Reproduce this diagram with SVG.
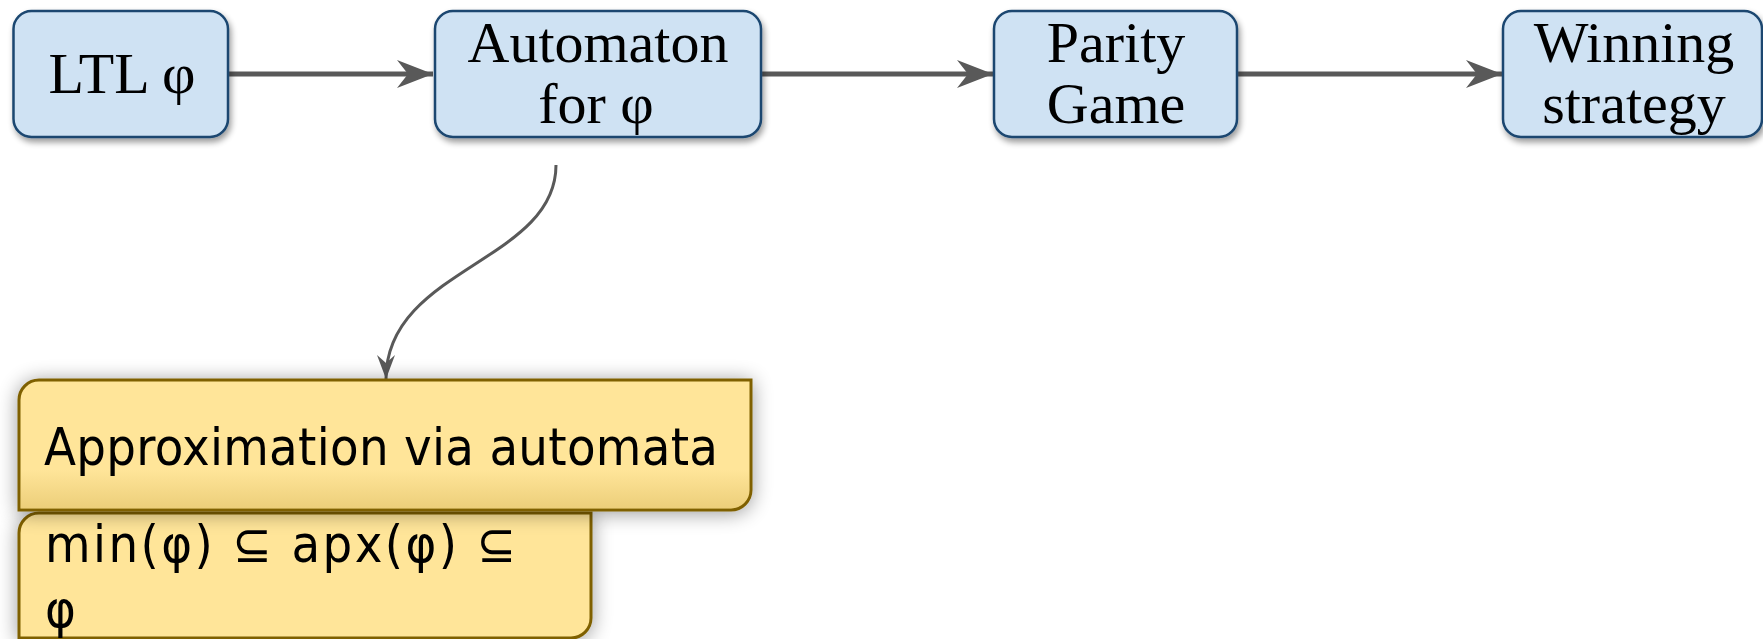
<svg xmlns="http://www.w3.org/2000/svg" width="1763" height="639" viewBox="0 0 1763 639">
  <style>
    .blue { fill: #cfe2f3; stroke: #1a4670; stroke-width: 2.5; filter: url(#dropShadow); }
    .yellow { fill: #ffe599; stroke: #7f6000; stroke-width: 3; filter: url(#glow); }
    .serif { font-family: "Liberation Serif", "Times New Roman", serif; font-size: 58px; fill: #000; text-anchor: middle; }
    .sans { font-family: "DejaVu Sans Condensed", "DejaVu Sans", sans-serif; font-stretch: condensed; font-size: 52px; fill: #000; }
    .flow { fill: none; stroke: #595959; stroke-width: 5; }
    .bend { fill: none; stroke: #595959; stroke-width: 3; }
  </style>
  <defs>
    <filter id="dropShadow" x="-10%" y="-10%" width="130%" height="140%">
      <feGaussianBlur in="SourceAlpha" stdDeviation="3"/>
      <feOffset dx="2" dy="4" result="off"/>
      <feComponentTransfer><feFuncA type="linear" slope="0.4"/></feComponentTransfer>
      <feMerge><feMergeNode/><feMergeNode in="SourceGraphic"/></feMerge>
    </filter>
    <filter id="glow" x="-10%" y="-30%" width="120%" height="160%">
      <feGaussianBlur in="SourceAlpha" stdDeviation="10"/>
      <feOffset dx="0" dy="2"/>
      <feComponentTransfer><feFuncA type="linear" slope="0.4"/></feComponentTransfer>
      <feMerge><feMergeNode/><feMergeNode in="SourceGraphic"/></feMerge>
    </filter>
    <linearGradient id="bottomShade" x1="0" y1="0" x2="0" y2="1">
      <stop offset="0" stop-color="#c9a440" stop-opacity="0"/>
      <stop offset="1" stop-color="#c9a440" stop-opacity="0.35"/>
    </linearGradient>
    <marker id="headBig" markerUnits="userSpaceOnUse" markerWidth="40" markerHeight="30" refX="36" refY="14" orient="auto">
      <path d="M0,0 L36,14 L0,28 L11,14 Z" fill="#595959"/>
    </marker>
    <marker id="headSmall" markerUnits="userSpaceOnUse" markerWidth="26" markerHeight="22" refX="24" refY="9" orient="auto">
      <path d="M0,0 L24,9 L0,18 L8,9 Z" fill="#595959"/>
    </marker>
  </defs>

  <g id="connectors">
    <path class="flow" d="M228,74 L433,74" marker-end="url(#headBig)"/>
    <path class="flow" d="M761,74 L993,74" marker-end="url(#headBig)"/>
    <path class="flow" d="M1237,74 L1502,74" marker-end="url(#headBig)"/>
    <path class="bend" d="M556,165 C556,262 386,268 386,379" marker-end="url(#headSmall)"/>
  </g>

  <g id="node-ltl">
    <rect class="blue" x="13.5" y="11" width="214.5" height="126" rx="18"/>
    <text class="serif" x="122" y="93">LTL φ</text>
  </g>

  <g id="node-automaton">
    <rect class="blue" x="435" y="11" width="326" height="126" rx="18"/>
    <text class="serif" x="598" y="62">Automaton</text>
    <text class="serif" x="596" y="123">for φ</text>
  </g>

  <g id="node-parity">
    <rect class="blue" x="994" y="11" width="243" height="126" rx="18"/>
    <text class="serif" x="1116" y="62">Parity</text>
    <text class="serif" x="1116" y="123">Game</text>
  </g>

  <g id="node-winning">
    <rect class="blue" x="1503" y="11" width="259" height="126" rx="18"/>
    <text class="serif" x="1634" y="62">Winning</text>
    <text class="serif" x="1634" y="123">strategy</text>
  </g>

  <g id="node-bound">
    <path class="yellow" d="M19,638 L19,533 A20,20 0 0 1 39,513 L591,513 L591,618 A20,20 0 0 1 571,638 Z"/>
    <text class="sans" x="45" y="562" textLength="471">min(φ) ⊆ apx(φ) ⊆</text>
    <text class="sans" x="45" y="627">φ</text>
  </g>

  <g id="node-approx">
    <path class="yellow" d="M19,510 L19,400 A20,20 0 0 1 39,380 L751,380 L751,490 A20,20 0 0 1 731,510 Z"/>
    <path d="M20.5,470 L749.5,470 L749.5,490 A18.5,18.5 0 0 1 731,508.5 L20.5,508.5 Z" fill="url(#bottomShade)"/>
    <text class="sans" x="44" y="465" textLength="674">Approximation via automata</text>
  </g>
</svg>
